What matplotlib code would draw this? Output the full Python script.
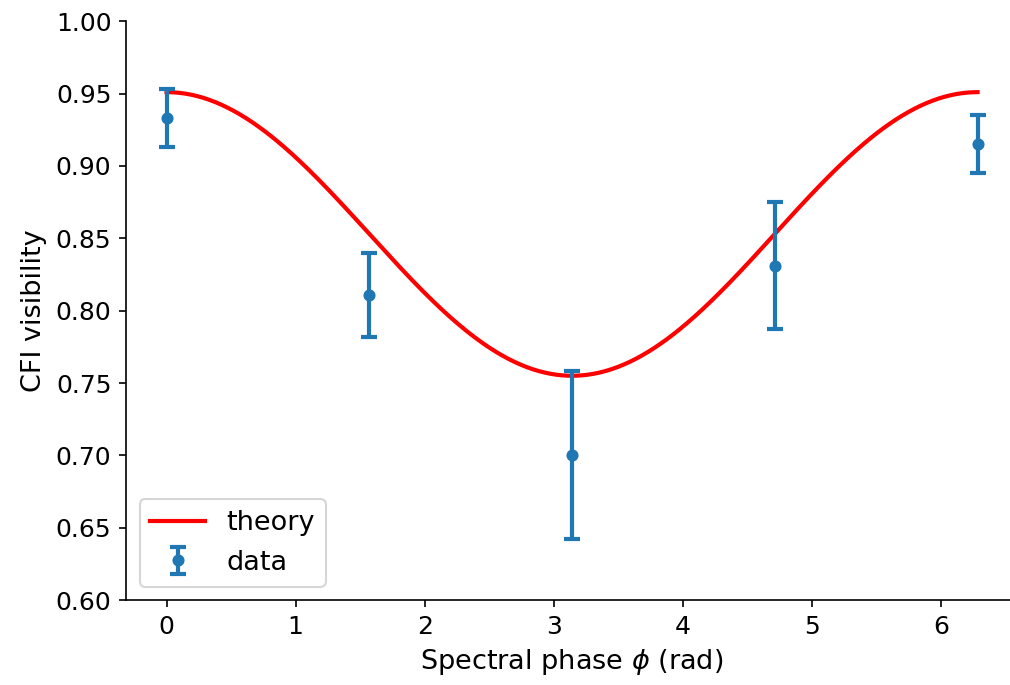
import numpy as np
import matplotlib.pyplot as plt

# measured CFI visibility at each spectral phase setting
phase = [0, np.pi / 2, np.pi, 3 * np.pi / 2, 2 * np.pi]
visibility = [0.933, 0.811, 0.700, 0.831, 0.915]
visibility_err = [0.020, 0.029, 0.058, 0.044, 0.020]

# theory curve parameters: visibility at phi = 0 and at phi = pi
v_max = 0.951
v_min = 0.755

phi = np.linspace(0, 2 * np.pi, 400)
theory = (v_max + v_min) / 2 + (v_max - v_min) / 2 * np.cos(phi)

plt.rcParams["font.size"] = 12

fig = plt.figure(figsize=(1010 / 150, 685 / 150), dpi=150)
ax = fig.add_axes([0.1248, 0.124, 0.8832, 0.845])
ax.plot(phi, theory, color="red", lw=2, label="theory")
ax.errorbar(phase, visibility, yerr=visibility_err, fmt="o", ms=4.8,
            color="tab:blue", elinewidth=2, capsize=3.9, capthick=2,
            label="data")

ax.set_ylim(0.6, 1.0)
ax.set_xlabel(r"Spectral phase $\phi$ (rad)", fontsize=13)
ax.set_ylabel("CFI visibility", fontsize=13)
ax.spines["top"].set_visible(False)
ax.spines["right"].set_visible(False)
ax.legend(loc="lower left", fontsize=13)

fig.savefig("out.png", dpi=150)
